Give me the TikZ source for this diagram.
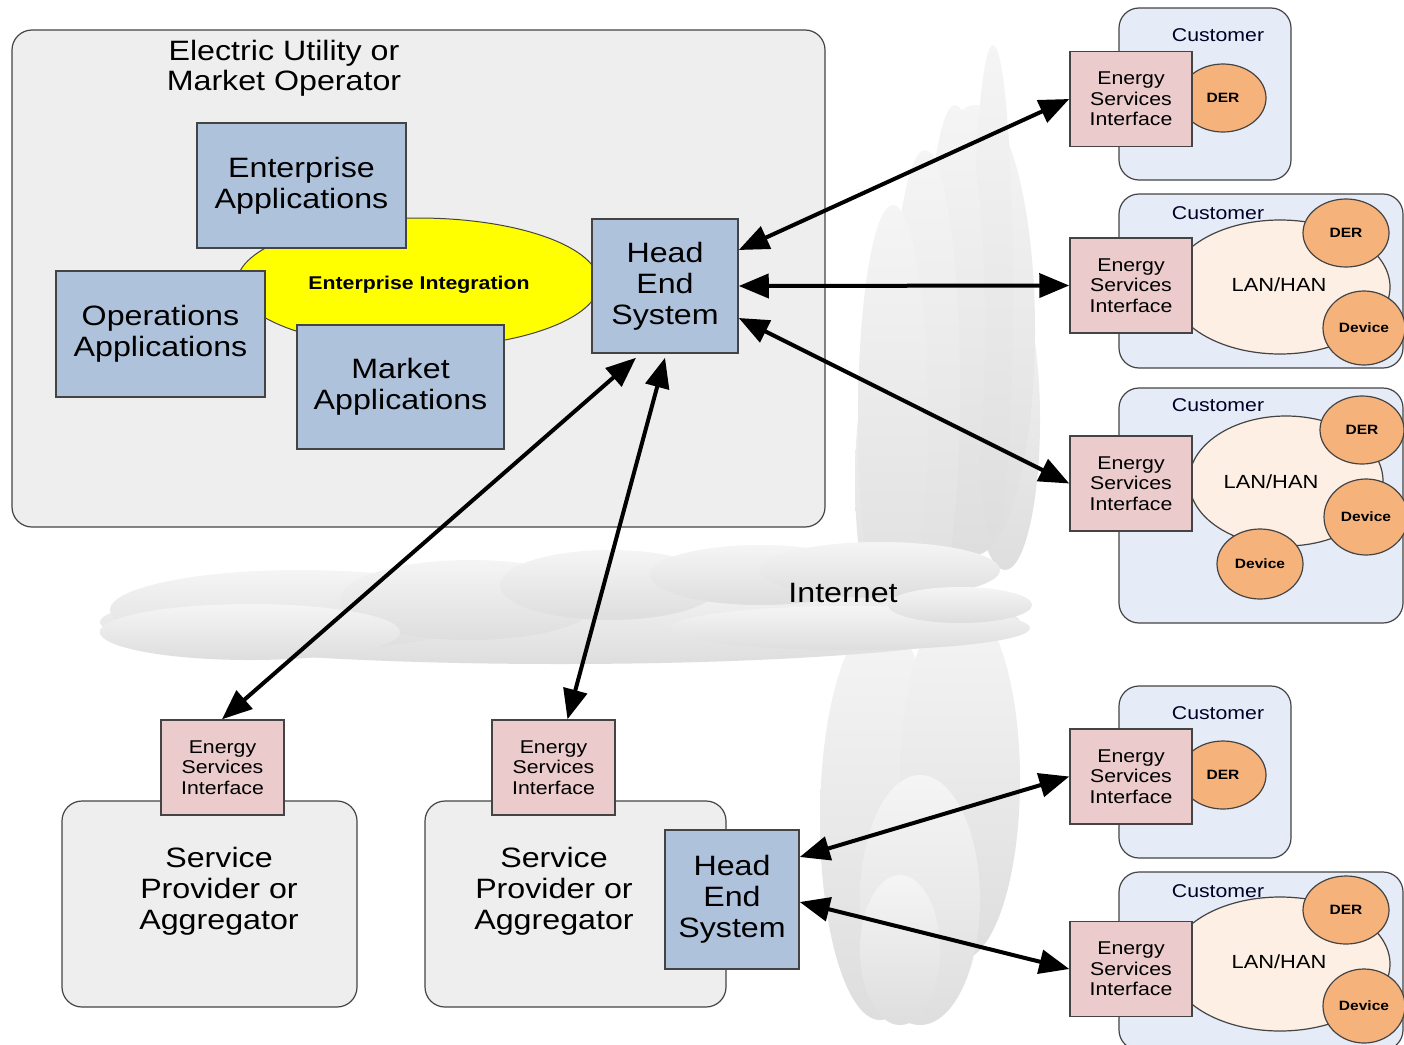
\documentclass[tikz,border=0pt]{standalone}
\usepackage{fontspec}
\setmainfont[FakeStretch=1.15]{Liberation Sans}
\usetikzlibrary{shapes.geometric,arrows.meta,calc}
\definecolor{utilfill}{HTML}{EEEEEE}
\definecolor{appblue}{HTML}{AFC2DB}
\definecolor{esipink}{HTML}{EBCBCB}
\definecolor{custfill}{HTML}{E6ECF7}
\definecolor{derfill}{HTML}{F5B27B}
\definecolor{lanfill}{HTML}{FDEFE3}
\definecolor{eiyellow}{HTML}{FFFF00}
\definecolor{edge}{HTML}{444444}
\newcommand\fsz[2]{\fontsize{#1}{#2}\selectfont}
\begin{document}
\begin{tikzpicture}[x=1pt,y=-1pt,
  cloudpart/.style={top color=black!4,bottom color=black!13,draw=none},
  bigbox/.style={draw=edge,line width=1.2pt,fill=utilfill,rounded corners=20pt,inner sep=0pt},
  appbox/.style={draw=edge,line width=1.5pt,fill=appblue,align=center,inner sep=0pt,font=\fsz{28}{31}},
  esibox/.style={draw=edge,line width=1.5pt,fill=esipink,align=center,inner sep=0pt,minimum width=122pt,minimum height=95pt,font=\fsz{18.5}{20.5}},
  custbox/.style={draw=edge,line width=1.2pt,fill=custfill,rounded corners=20pt,inner sep=0pt},
  custlbl/.style={font=\fsz{18.5}{20},text=black!85!blue},
  derball/.style={ellipse,draw=edge,line width=1.2pt,fill=derfill,inner sep=0pt,font=\bfseries\fsz{13.5}{15}},
  lanball/.style={ellipse,draw=edge,line width=1.2pt,fill=lanfill,inner sep=0pt},
  lanlbl/.style={font=\fsz{19}{21}},
  bigtxt/.style={align=center,font=\fsz{28}{31}},
  arr/.style={line width=4pt,{Triangle[length=30pt,width=24pt]}-{Triangle[length=30pt,width=24pt]}}
]
\useasboundingbox (0,0) rectangle (1404,1044);
\fill[white] (0,0) rectangle (1404,1044);

% ---- clouds (vertical, then horizontal) ----
\foreach \cx/\cy/\rx/\ry in {900/480/45/170, 1005/420/35/150, 975/330/60/225, 993/290/20/245,
  955/330/30/225, 925/390/35/240, 893/420/35/215,
  880/820/60/200, 960/780/60/180, 920/900/60/125, 900/950/40/75}
  \shade[cloudpart] (\cx,\cy) ellipse [x radius=\rx, y radius=\ry];
\foreach \cx/\cy/\rx/\ry in {560/622/460/42, 300/610/190/40, 470/600/130/40, 610/585/110/35,
  760/575/110/30, 880/570/120/28, 850/628/180/22, 960/605/72/18, 250/632/150/28}
  \shade[cloudpart] (\cx,\cy) ellipse [x radius=\rx, y radius=\ry];

% ---- utility ----
\node[bigbox,minimum width=813pt,minimum height=497pt] (util) at (418.5,278.5) {};
\node[bigtxt,font=\fsz{28}{30}] (utitle) at (284,68) {Electric Utility or\\Market Operator};
\node[ellipse,draw=edge,line width=1pt,fill=eiyellow,minimum width=362pt,minimum height=130pt,inner sep=0pt] (ei) at (418,283) {};
\node[font=\bfseries\fsz{18.5}{20}] (eil) at (419,285) {Enterprise Integration};
\node[appbox,minimum width=209pt,minimum height=125pt] (ent) at (301.5,185.5) {Enterprise\\Applications};
\node[appbox,minimum width=209pt,minimum height=126pt] (ops) at (160.5,334) {Operations\\Applications};
\node[appbox,minimum width=207pt,minimum height=124pt] (mkt) at (400.5,387) {Market\\Applications};
\node[appbox,minimum width=146pt,minimum height=134pt] (hes) at (665,286) {Head\\End\\System};

\node[bigtxt] (inet) at (843,593) {Internet};

% ---- service providers ----
\node[bigbox,minimum width=295pt,minimum height=206pt] (spa) at (209.5,904) {};
\node[bigbox,minimum width=301pt,minimum height=206pt] (spb) at (575.5,904) {};
\node[bigtxt] (spat) at (219,891) {Service\\Provider or\\Aggregator};
\node[bigtxt] (spbt) at (554,891) {Service\\Provider or\\Aggregator};
\node[esibox,minimum width=123pt] (esia) at (222.5,767.5) {Energy\\Services\\Interface};
\node[esibox,minimum width=123pt] (esib) at (553.5,767.5) {Energy\\Services\\Interface};
\node[appbox,minimum width=134pt,minimum height=139pt] (hesb) at (732,899.5) {Head\\End\\System};

% ---- customers ----
% c1
\node[custbox,minimum width=172pt,minimum height=172pt] (c1) at (1205,94) {};
\node[custlbl] (c1l) at (1218,35) {Customer};
\node[derball,minimum width=86pt,minimum height=68pt] (c1d) at (1223,98) {DER};
\node[esibox] (esi1) at (1131,99) {Energy\\Services\\Interface};
% c2
\node[custbox,minimum width=284pt,minimum height=174pt] (c2) at (1261,281) {};
\node[custlbl] (c2l) at (1218,213) {Customer};
\node[lanball,minimum width=220pt,minimum height=134pt] (c2n) at (1280,287) {};
\node[lanlbl] (c2nl) at (1279,285) {LAN/HAN};
\node[derball,minimum width=86pt,minimum height=68pt] (c2d) at (1346,233) {DER};
\node[derball,minimum width=82pt,minimum height=74pt] (c2v) at (1364,328) {Device};
\node[esibox] (esi2) at (1131,285.5) {Energy\\Services\\Interface};
% c3
\node[custbox,minimum width=284pt,minimum height=235pt] (c3) at (1261,505.5) {};
\node[custlbl] (c3l) at (1218,405) {Customer};
\node[lanball,minimum width=194pt,minimum height=130pt] (c3n) at (1286,481) {};
\node[lanlbl] (c3nl) at (1271,482) {LAN/HAN};
\node[derball,minimum width=84pt,minimum height=68pt] (c3d) at (1362,430) {DER};
\node[derball,minimum width=84pt,minimum height=76pt] (c3v) at (1366,517) {Device};
\node[derball,minimum width=86pt,minimum height=70pt] (c3w) at (1260,564) {Device};
\node[esibox] (esi3) at (1131,483.5) {Energy\\Services\\Interface};
% c4
\node[custbox,minimum width=172pt,minimum height=172pt] (c4) at (1205,772) {};
\node[custlbl] (c4l) at (1218,713) {Customer};
\node[derball,minimum width=86pt,minimum height=68pt] (c4d) at (1223,775) {DER};
\node[esibox] (esi4) at (1131,776.5) {Energy\\Services\\Interface};
% c5
\node[custbox,minimum width=284pt,minimum height=178pt] (c5) at (1261,961) {};
\node[custlbl] (c5l) at (1218,891) {Customer};
\node[lanball,minimum width=220pt,minimum height=134pt] (c5n) at (1280,964) {};
\node[lanlbl] (c5nl) at (1279,962) {LAN/HAN};
\node[derball,minimum width=86pt,minimum height=68pt] (c5d) at (1346,910) {DER};
\node[derball,minimum width=82pt,minimum height=74pt] (c5v) at (1364,1006) {Device};
\node[esibox] (esi5) at (1131,969) {Energy\\Services\\Interface};

% ---- arrows ----
\draw[arr] ([yshift=36pt]hes.east) -- (esi1.west);
\draw[arr] (hes.east) -- (esi2.west);
\draw[arr] ([yshift=-32pt]hes.east) -- (esi3.west);
\draw[arr] ([xshift=-29pt,yshift=-4pt]hes.south) -- ([xshift=-0.5pt]esia.north);
\draw[arr] ([yshift=-4pt]hes.south) -- ([xshift=14pt]esib.north);
\draw[arr] ([yshift=42.5pt]hesb.east) -- (esi4.west);
\draw[arr] ([yshift=-2.5pt]hesb.east) -- (esi5.west);
\end{tikzpicture}
\end{document}
